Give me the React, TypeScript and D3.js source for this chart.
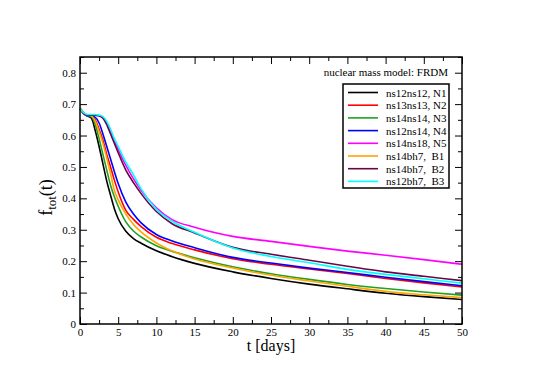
import React, { useEffect, useRef } from "react";
import * as d3 from "d3";

// time grid (days) and f_tot values
const days = [0, 0.5, 1, 1.5, 2, 2.5, 3, 3.5, 4, 4.5, 5, 6, 7, 8, 10, 12, 15, 20, 25, 30, 35, 40, 45, 50];
const n1 = [0.685, 0.670, 0.662, 0.655, 0.615, 0.565, 0.510, 0.455, 0.410, 0.367, 0.335, 0.295, 0.272, 0.257, 0.233, 0.215, 0.193, 0.166, 0.145, 0.127, 0.112, 0.098, 0.087, 0.078];
const n2 = [0.685, 0.670, 0.663, 0.662, 0.650, 0.620, 0.585, 0.540, 0.500, 0.458, 0.420, 0.362, 0.333, 0.310, 0.276, 0.257, 0.236, 0.208, 0.190, 0.175, 0.161, 0.145, 0.131, 0.118];
const n3 = [0.685, 0.670, 0.662, 0.660, 0.635, 0.590, 0.540, 0.490, 0.442, 0.405, 0.375, 0.325, 0.296, 0.277, 0.249, 0.232, 0.211, 0.182, 0.160, 0.142, 0.126, 0.113, 0.102, 0.092];
const n4 = [0.685, 0.670, 0.663, 0.662, 0.658, 0.640, 0.605, 0.565, 0.525, 0.485, 0.447, 0.388, 0.350, 0.322, 0.285, 0.265, 0.243, 0.212, 0.194, 0.178, 0.164, 0.149, 0.135, 0.122];
const n5 = [0.685, 0.670, 0.665, 0.665, 0.665, 0.663, 0.658, 0.640, 0.613, 0.585, 0.555, 0.505, 0.462, 0.425, 0.370, 0.333, 0.308, 0.279, 0.263, 0.247, 0.232, 0.219, 0.205, 0.190];
const b1 = [0.690, 0.672, 0.665, 0.662, 0.645, 0.612, 0.575, 0.528, 0.478, 0.425, 0.395, 0.350, 0.317, 0.293, 0.258, 0.233, 0.207, 0.178, 0.155, 0.137, 0.120, 0.104, 0.093, 0.084];
const b2 = [0.685, 0.670, 0.665, 0.665, 0.665, 0.663, 0.655, 0.635, 0.605, 0.575, 0.545, 0.490, 0.450, 0.415, 0.358, 0.320, 0.290, 0.244, 0.222, 0.203, 0.184, 0.166, 0.152, 0.138];
const b3 = [0.685, 0.672, 0.667, 0.667, 0.667, 0.665, 0.660, 0.645, 0.620, 0.590, 0.565, 0.515, 0.475, 0.430, 0.365, 0.328, 0.292, 0.242, 0.215, 0.195, 0.174, 0.158, 0.144, 0.130];

const labels = ["ns12ns12, N1", "ns13ns13, N2", "ns14ns14, N3", "ns12ns14, N4", "ns14ns18, N5", "ns14bh7,  B1", "ns14bh7,  B2", "ns12bh7,  B3"];
const colors = ["#000000", "#ff0000", "#22a022", "#0000ff", "#ff00ff", "#ffa500", "#670748", "#00ffff"];
const values = [n1, n2, n3, n4, n5, b1, b2, b3];

const xTicks = [0, 5, 10, 15, 20, 25, 30, 35, 40, 45, 50];
const xMinor = [2.5, 7.5, 12.5, 17.5, 22.5, 27.5, 32.5, 37.5, 42.5, 47.5];
const yTicks = [0, 0.1, 0.2, 0.3, 0.4, 0.5, 0.6, 0.7, 0.8];
const yMinor = [0.05, 0.15, 0.25, 0.35, 0.45, 0.55, 0.65, 0.75, 0.85];

const FONT = "'Liberation Serif', 'Times New Roman', 'DejaVu Serif', serif";

export default function App() {
  const svgRef = useRef<SVGSVGElement>(null);

  useEffect(() => {
    const width = 540;
    const height = 382;
    const margin = { top: 57, right: 78, bottom: 58, left: 80 };
    const w = width - margin.left - margin.right;
    const h = height - margin.top - margin.bottom;

    const svg = d3.select(svgRef.current);
    svg.selectAll("*").remove();

    const x = d3.scaleLinear().domain([0, 50]).range([0, w]);
    const y = d3.scaleLinear().domain([0, 0.85]).range([h, 0]);

    const chart = svg.append("g").attr("transform", `translate(${margin.left},${margin.top})`);

    // curves
    const line = d3
      .line<number>()
      .x((_, i) => x(days[i]))
      .y((d) => y(d))
      .curve(d3.curveMonotoneX);

    values.forEach((vals, k) => {
      chart
        .append("path")
        .datum(vals)
        .attr("fill", "none")
        .attr("stroke", colors[k])
        .attr("stroke-width", 1.6)
        .attr("d", line);
    });

    // axes with inward ticks on all four sides
    const fmt = (d: d3.NumberValue) => `${+(+d).toFixed(2)}`;
    const addAxis = (axis: d3.Axis<d3.NumberValue>, tx: number, ty: number, cls: string) =>
      chart.append("g").attr("class", cls).attr("transform", `translate(${tx},${ty})`).call(axis as any);

    addAxis(d3.axisBottom(x).tickValues(xTicks).tickSize(-7).tickPadding(4).tickFormat(fmt), 0, h, "ax");
    addAxis(d3.axisBottom(x).tickValues(xMinor).tickSize(-4).tickFormat(() => ""), 0, h, "ax");
    addAxis(d3.axisTop(x).tickValues(xTicks).tickSize(-7).tickFormat(() => ""), 0, 0, "ax");
    addAxis(d3.axisTop(x).tickValues(xMinor).tickSize(-4).tickFormat(() => ""), 0, 0, "ax");
    addAxis(d3.axisLeft(y).tickValues(yTicks).tickSize(-7).tickPadding(4).tickFormat(fmt), 0, 0, "ax");
    addAxis(d3.axisLeft(y).tickValues(yMinor).tickSize(-4).tickFormat(() => ""), 0, 0, "ax");
    addAxis(d3.axisRight(y).tickValues(yTicks).tickSize(-7).tickFormat(() => ""), w, 0, "ax");
    addAxis(d3.axisRight(y).tickValues(yMinor).tickSize(-4).tickFormat(() => ""), w, 0, "ax");

    chart.selectAll(".ax .domain").remove();
    chart.selectAll(".ax line").attr("stroke", "#000").attr("stroke-width", 1);
    chart
      .selectAll(".ax text")
      .attr("fill", "#000")
      .style("font-family", FONT)
      .style("font-size", "11px");

    // frame
    chart
      .append("rect")
      .attr("width", w)
      .attr("height", h)
      .attr("fill", "none")
      .attr("stroke", "#000")
      .attr("stroke-width", 1.5);

    // axis titles
    chart
      .append("text")
      .attr("x", w / 2)
      .attr("y", h + 27)
      .attr("text-anchor", "middle")
      .style("font-family", FONT)
      .style("font-size", "16px")
      .text("t [days]");

    const yt = chart
      .append("text")
      .attr("transform", `translate(${-28},${h / 2 + 7}) rotate(-90)`)
      .attr("text-anchor", "middle")
      .style("font-family", FONT)
      .style("font-size", "18px");
    yt.append("tspan").text("f");
    yt.append("tspan").attr("dy", 4).style("font-size", "13px").text("tot");
    yt.append("tspan").attr("dy", -4).text("(t)");

    // annotation
    chart
      .append("text")
      .attr("x", 368)
      .attr("y", 19)
      .attr("text-anchor", "end")
      .style("font-family", FONT)
      .style("font-size", "11px")
      .text("nuclear mass model: FRDM");

    // legend
    const lg = chart.append("g").attr("transform", `translate(263,27)`);
    lg.append("rect")
      .attr("width", 106)
      .attr("height", 104)
      .attr("fill", "#fff")
      .attr("stroke", "#000")
      .attr("stroke-width", 1.5);
    labels.forEach((lab, k) => {
      const yy = 8.5 + k * 12.7;
      lg.append("line")
        .attr("x1", 5)
        .attr("x2", 35)
        .attr("y1", yy)
        .attr("y2", yy)
        .attr("stroke", colors[k])
        .attr("stroke-width", 1.6);
      lg.append("text")
        .attr("x", 43)
        .attr("y", yy + 4)
        .attr("xml:space", "preserve")
        .style("white-space", "pre")
        .style("font-family", FONT)
        .style("font-size", "11px")
        .text(lab);
    });
  }, []);

  return (
    <div style={{ position: "absolute", left: 0, top: 0, width: 540, height: 382, background: "#fff" }}>
      <svg ref={svgRef} width={540} height={382} />
    </div>
  );
}
